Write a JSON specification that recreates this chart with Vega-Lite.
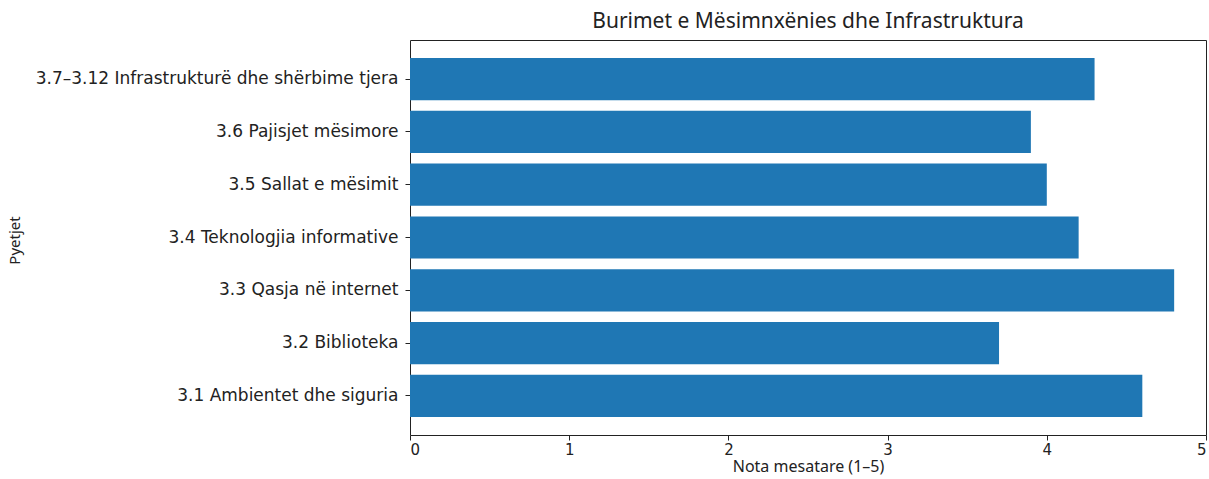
{
  "$schema": "https://vega.github.io/schema/vega-lite/v6.json",
  "width": 796,
  "height": 395,
  "autosize": {"type": "none"},
  "padding": {"left": 410, "top": 40, "right": 3, "bottom": 44},
  "background": "white",
  "config": {
    "view": {"stroke": "#222222", "strokeWidth": 1},
    "axis": {"grid": false, "domain": false, "tickColor": "#222222", "tickSize": 5, "labelColor": "#222222", "titleColor": "#222222", "titleFontWeight": "normal"}
  },
  "title": {"text": "Burimet e Mësimnxënies dhe Infrastruktura", "font": "Noto Sans", "fontSize": 21, "fontWeight": "normal", "color": "#222222", "offset": 8},
  "data": {
    "values": [
      {"q": "3.1 Ambientet dhe siguria", "v": 4.6},
      {"q": "3.2 Biblioteka", "v": 3.7},
      {"q": "3.3 Qasja në internet", "v": 4.8},
      {"q": "3.4 Teknologjia informative", "v": 4.2},
      {"q": "3.5 Sallat e mësimit", "v": 4.0},
      {"q": "3.6 Pajisjet mësimore", "v": 3.9},
      {"q": "3.7–3.12 Infrastrukturë dhe shërbime tjera", "v": 4.3}
    ]
  },
  "mark": {"type": "bar", "color": "#1f77b4"},
  "encoding": {
    "y": {
      "field": "q", "type": "nominal", "sort": null,
      "scale": {"reverse": true, "paddingInner": 0.2, "paddingOuter": 0.34},
      "axis": {"title": "Pyetjet", "titleFont": "Noto Sans", "titleFontSize": 15, "titleX": -388, "titleY": 200, "titleAlign": "center", "titleBaseline": "bottom", "titleAngle": -90, "labelFont": "DejaVu Sans", "labelFontSize": 17, "labelPadding": 7, "labelLimit": 500}
    },
    "x": {
      "field": "v", "type": "quantitative",
      "scale": {"domain": [0, 5], "nice": false},
      "axis": {"title": "Nota mesatare (1–5)", "titleFont": "Noto Sans", "titleFontSize": 16, "titlePadding": 1, "labelFont": "DejaVu Sans", "labelFontSize": 15, "labelPadding": 2, "values": [0, 1, 2, 3, 4, 5], "format": "d"}
    }
  }
}
